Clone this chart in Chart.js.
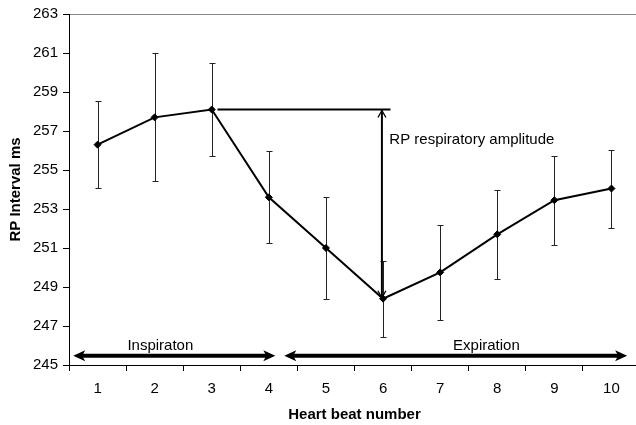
<!DOCTYPE html>
<html><head><meta charset="utf-8">
<script src="https://cdn.jsdelivr.net/npm/chart.js@4/dist/chart.umd.min.js"></script>
<style>html,body{margin:0;padding:0;background:#fff;overflow:hidden;} canvas{display:block;}</style>
</head><body>
<canvas id="c" width="645" height="425" style="width:645px;height:425px"></canvas>
<script>
// ---- data ----
const beats = ['1', '2', '3', '4', '5', '6', '7', '8', '9', '10'];
const rpMeans = [256.3, 257.7, 258.1, 253.6, 251.0, 248.4, 249.75, 251.7, 253.45, 254.05];
const rpErrors = [2.23, 3.28, 2.37, 2.36, 2.6, 1.95, 2.44, 2.27, 2.28, 2.0];
const yMin = 245, yMax = 263, yStep = 2;
const amplitudeLabel = 'RP respiratory amplitude';
const phaseLabels = ['Inspiraton', 'Expiration'];

const FONT = "'Liberation Sans', Arial, sans-serif";

// annotation placement (in data/category units)
const phaseArrows = [
  {text: phaseLabels[0], from: -0.426, to: 3.113, textAt: 1.10},
  {text: phaseLabels[1], from: 3.27, to: 9.275, textAt: 6.81}
];
const phaseY = 245.48;
const amp = {lineFrom: 2.10, lineTo: 5.13, arrowAt: 4.98, top: rpMeans[2], bottom: rpMeans[5], textAt: 5.11, textY: 256.33};

const errorBars = {
  id: 'errorBars',
  beforeDatasetsDraw(chart) {
    const {ctx, scales: {x, y}} = chart;
    ctx.save();
    ctx.strokeStyle = '#222';
    ctx.lineWidth = 1;
    rpMeans.forEach((m, i) => {
      const px = Math.round(x.getPixelForValue(i)) + 0.5;
      const yt = Math.round(y.getPixelForValue(m + rpErrors[i])) + 0.5;
      const yb = Math.round(y.getPixelForValue(m - rpErrors[i])) + 0.5;
      ctx.beginPath();
      ctx.moveTo(px, yt); ctx.lineTo(px, yb);
      ctx.moveTo(px - 3, yt); ctx.lineTo(px + 3, yt);
      ctx.moveTo(px - 3, yb); ctx.lineTo(px + 3, yb);
      ctx.stroke();
    });
    ctx.restore();
  }
};

function filledHead(ctx, tipX, y, dir) {
  ctx.beginPath();
  ctx.moveTo(tipX, y);
  ctx.lineTo(tipX - dir * 12, y - 5.5);
  ctx.lineTo(tipX - dir * 9, y);
  ctx.lineTo(tipX - dir * 12, y + 5.5);
  ctx.closePath();
  ctx.fill();
}

const annotations = {
  id: 'annotations',
  afterDraw(chart) {
    const {ctx, scales: {x, y}} = chart;
    ctx.save();
    ctx.strokeStyle = '#000';
    ctx.fillStyle = '#000';
    // amplitude horizontal line
    const ly = y.getPixelForValue(amp.top);
    ctx.lineWidth = 2;
    ctx.beginPath();
    ctx.moveTo(x.getPixelForValue(amp.lineFrom), ly);
    ctx.lineTo(x.getPixelForValue(amp.lineTo), ly);
    ctx.stroke();
    // vertical double arrow
    const ax = x.getPixelForValue(amp.arrowAt);
    const ab = y.getPixelForValue(amp.bottom);
    ctx.beginPath();
    ctx.moveTo(ax, ly); ctx.lineTo(ax, ab);
    ctx.stroke();
    ctx.lineWidth = 1.3;
    ctx.beginPath();
    ctx.moveTo(ax - 4, ly + 8); ctx.lineTo(ax, ly + 1); ctx.lineTo(ax + 4, ly + 8);
    ctx.moveTo(ax - 4, ab - 8); ctx.lineTo(ax, ab - 1); ctx.lineTo(ax + 4, ab - 8);
    ctx.stroke();
    // amplitude text
    ctx.font = '15px ' + FONT;
    ctx.textAlign = 'left';
    ctx.textBaseline = 'alphabetic';
    ctx.fillText(amplitudeLabel, x.getPixelForValue(amp.textAt), y.getPixelForValue(amp.textY));
    // phase arrows
    const py = y.getPixelForValue(phaseY);
    phaseArrows.forEach(p => {
      const x1 = x.getPixelForValue(p.from), x2 = x.getPixelForValue(p.to);
      ctx.lineWidth = 4;
      ctx.beginPath();
      ctx.moveTo(x1 + 8, py); ctx.lineTo(x2 - 8, py);
      ctx.stroke();
      filledHead(ctx, x1, py, -1);
      filledHead(ctx, x2, py, 1);
      ctx.textAlign = 'center';
      ctx.fillText(p.text, x.getPixelForValue(p.textAt), py - 6);
    });
    ctx.restore();
  }
};

new Chart(document.getElementById('c'), {
  type: 'line',
  data: {
    labels: beats,
    datasets: [{
      data: rpMeans,
      borderColor: '#000',
      borderWidth: 2,
      backgroundColor: '#000',
      pointStyle: 'rectRot',
      pointRadius: 3.5,
      pointBackgroundColor: '#000',
      pointBorderColor: '#000',
      pointBorderWidth: 1,
      tension: 0,
      fill: false
    }]
  },
  options: {
    responsive: false,
    animation: false,
    events: [],
    layout: {padding: {top: 12, right: 0, bottom: 0, left: 0}},
    plugins: {legend: {display: false}, tooltip: {enabled: false}},
    scales: {
      x: {
        type: 'category',
        offset: true,
        afterFit(s) { s.height = 60; },
        grid: {offset: true, drawOnChartArea: false, color: 'transparent', tickColor: '#000', tickLength: 6, lineWidth: 1},
        border: {display: true, color: '#000', width: 1},
        ticks: {color: '#000', font: {family: FONT, size: 15}, padding: 9, maxRotation: 0},
        title: {display: true, text: 'Heart beat number', color: '#000', font: {family: FONT, size: 15, weight: 'bold'}, padding: {top: 0, bottom: 1}}
      },
      y: {
        min: yMin, max: yMax,
        afterFit(s) { s.width = 69; },
        grid: {
          color: c => (c.tick && c.tick.value === yMax) ? '#888' : 'transparent',
          tickColor: '#000', tickLength: 6, lineWidth: 1
        },
        border: {display: true, color: '#000', width: 1},
        ticks: {stepSize: yStep, color: '#000', font: {family: FONT, size: 15}, padding: 5},
        title: {display: true, text: 'RP Interval ms', color: '#000', font: {family: FONT, size: 15, weight: 'bold'}, padding: {top: 7, bottom: 0}}
      }
    }
  },
  plugins: [errorBars, annotations]
});
</script>
</body></html>
